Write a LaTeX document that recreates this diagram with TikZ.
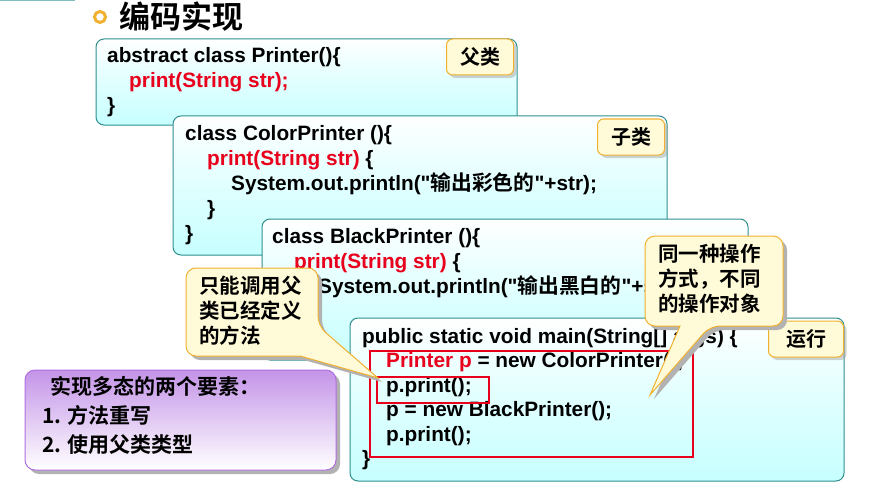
\documentclass[tikz,border=0pt]{standalone}
\usepackage{fontspec}
\setmainfont{Liberation Sans}
\newfontfamily\cjk{Noto Sans CJK SC}[BoldFont={Noto Sans CJK SC Bold}]
\usetikzlibrary{shadows}
\definecolor{boxline}{HTML}{2F8F8F}
\definecolor{lblfill}{HTML}{FFFBD8}
\definecolor{lbline}{HTML}{F0B030}
\definecolor{codered}{HTML}{E8001C}
\definecolor{purp}{HTML}{B070E0}
\newcommand{\dq}{\textquotedbl}
\begin{document}
\begin{tikzpicture}[x=1pt,y=-1pt,
  codebox/.style={draw=boxline,line width=1pt,rounded corners=8pt,top color=white,bottom color=cyan!22,middle color=cyan!12},
  lbl/.style={draw=lbline,line width=1pt,fill=lblfill,rounded corners=6pt,drop shadow={shadow xshift=3pt,shadow yshift=-3pt,fill=black!35},font=\cjk\bfseries\fontsize{20}{22}\selectfont,minimum height=36pt,inner sep=2pt},
  code/.style={anchor=north west,align=left,font=\bfseries\fontsize{20.8}{25}\selectfont,inner sep=0pt},
  redbox/.style={draw=codered,line width=1.6pt},
  calltext/.style={anchor=north west,align=left,font=\cjk\bfseries\fontsize{20.5}{25}\selectfont,inner sep=0pt},
]
\useasboundingbox (0,0) rectangle (869,500);
\fill[white] (0,0) rectangle (869,500);
\draw[boxline!60,line width=1.5pt] (0,0.5) -- (75,0.5);
% title
\draw[lbline,line width=3pt,fill=white] (100,17) circle (5.5);
\node[anchor=west,font=\cjk\bfseries\fontsize{31}{34}\selectfont,inner sep=0pt] (title) at (119,17) {编码实现};
% box1
\draw[codebox] (96,39) rectangle (517,125);
\node[code] (c1) at (107,47) {abstract class Printer()\{\\\hspace*{22pt}\textcolor{codered}{print(String str);}\\\}};
\node[lbl,minimum width=67pt] (l1) at (480,57) {父类};
% box2
\draw[codebox] (173,116) rectangle (667,255);
\node[code] (c2) at (185,125) {class ColorPrinter ()\{\\\hspace*{22pt}\textcolor{codered}{print(String str)} \{\\\hspace*{46pt}System.out.println(\dq{\cjk 输出彩色的}\dq+str);\\\hspace*{22pt}\}\\\}};
\node[lbl,minimum width=67pt] (l2) at (631,137) {子类};
% box3
\draw[codebox] (262,219) rectangle (748,360);
\node[code] (c3) at (272,228) {class BlackPrinter ()\{\\\hspace*{22pt}\textcolor{codered}{print(String str)} \{\\\hspace*{46pt}System.out.println(\dq{\cjk 输出黑白的}\dq+str);};
% box4
\draw[codebox] (350,318) rectangle (844,481);
\node[code,font=\bfseries\fontsize{20.8}{24.5}\selectfont] (c4) at (362,328) {public static void main(String[] args) \{\\\hspace*{24pt}\textcolor{codered}{Printer p} = new ColorPrinter();\\\hspace*{24pt}p.print();\\\hspace*{24pt}p = new BlackPrinter();\\\hspace*{24pt}p.print();\\\}};
\draw[redbox] (370,351) rectangle (693,457);
\draw[redbox] (377,377) rectangle (489,403);
\node[lbl,minimum width=75pt] (l4) at (806,339) {运行};
% purple box
\fill[black!30,rounded corners=10pt] (29,374) rectangle (340,474);
\draw[purp,line width=1pt,rounded corners=10pt,top color=purp!75,bottom color=white] (25,370) rectangle (336,470);
\node[calltext,font=\cjk\bfseries\fontsize{21}{29}\selectfont] (p1) at (50,376) {实现多态的两个要素：};
\node[calltext,font=\cjk\bfseries\fontsize{21}{29}\selectfont] (p2) at (42,405) {1. 方法重写\\2. 使用父类类型};
% callout 1
\fill[black!30,rounded corners=10pt] (190,272) -- (322,272) -- (322,330) [sharp corners]-- (382,382) -- (304,360) [rounded corners=10pt]-- (190,360) -- cycle;
\draw[lbline,line width=1pt,fill=lblfill,rounded corners=10pt] (186,268) -- (318,268) -- (318,326) [sharp corners]-- (378,378) -- (300,356) [rounded corners=10pt]-- (186,356) -- cycle;
\node[calltext] (t1) at (199,276) {只能调用父\\类已经定义\\的方法};
% callout 2
\fill[black!30,rounded corners=10pt] (649,240) -- (787,240) -- (787,330) -- (714,330) [sharp corners]-- (654,399) -- (684,330) [rounded corners=10pt]-- (649,330) -- cycle;
\draw[lbline,line width=1pt,fill=lblfill,rounded corners=10pt] (645,236) -- (783,236) -- (783,326) -- (710,326) [sharp corners]-- (650,395) -- (680,326) [rounded corners=10pt]-- (645,326) -- cycle;
\node[calltext] (t2) at (658,244) {同一种操作\\方式，不同\\的操作对象};
\end{tikzpicture}
\end{document}
